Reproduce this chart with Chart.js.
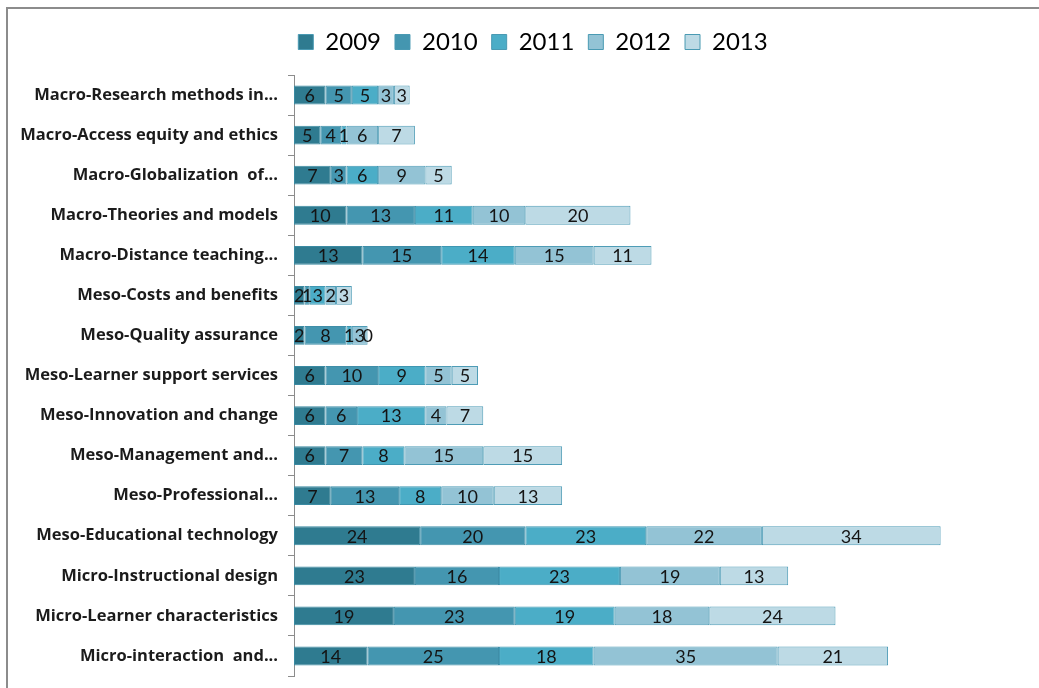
<!DOCTYPE html>
<html>
<head>
<meta charset="utf-8">
<script src="https://cdn.jsdelivr.net/npm/chart.js"></script>
<style>
  html, body { margin: 0; padding: 0; background: #fff; overflow: hidden; }
  #wrap { position: relative; width: 1039px; height: 688px; }
  #frame { position: absolute; left: 6px; top: 7px; width: 1100px; height: 700px;
           border-top: 2px solid #8c8c8c; border-left: 2px solid #8c8c8c; }
  canvas { position: absolute; left: 0; top: 0; }
</style>
</head>
<body>
<div id="wrap">
  <div id="frame"></div>
  <canvas id="myChart" width="1039" height="688"></canvas>
</div>
<script>
// categories, top to bottom
const topics = [
  'Macro-Research methods in...',
  'Macro-Access equity and ethics',
  'Macro-Globalization  of...',
  'Macro-Theories and models',
  'Macro-Distance teaching...',
  'Meso-Costs and benefits',
  'Meso-Quality assurance',
  'Meso-Learner support services',
  'Meso-Innovation and change',
  'Meso-Management and...',
  'Meso-Professional...',
  'Meso-Educational technology',
  'Micro-Instructional design',
  'Micro-Learner characteristics',
  'Micro-interaction  and...'
];

const years = ['2009', '2010', '2011', '2012', '2013'];

const v2009 = [6, 5, 7, 10, 13, 2, 2, 6, 6, 6, 7, 24, 23, 19, 14];
const v2010 = [5, 4, 3, 13, 15, 1, 8, 10, 6, 7, 13, 20, 16, 23, 25];
const v2011 = [5, 1, 6, 11, 14, 3, 1, 9, 13, 8, 8, 23, 23, 19, 18];
const v2012 = [3, 6, 9, 10, 15, 2, 3, 5, 4, 15, 10, 22, 19, 18, 35];
const v2013 = [3, 7, 5, 20, 11, 3, 0, 5, 7, 15, 13, 34, 13, 24, 21];

const fills = ['#2f7b90', '#4496b0', '#4badc7', '#93c3d5', '#bddae5'];
const edges = ['#3a8aa2', '#3f8ea8', '#3f97b2', '#4e9cb6', '#4e9cb6'];

const FONT = 'Lato, "DejaVu Sans", sans-serif';

// value labels in the middle of each segment
const segLabels = {
  id: 'segLabels',
  afterDatasetsDraw(chart) {
    const ctx = chart.ctx;
    ctx.save();
    ctx.font = '18px ' + FONT;
    ctx.fillStyle = '#141414';
    ctx.textAlign = 'center';
    ctx.textBaseline = 'middle';
    chart.data.datasets.forEach((ds, i) => {
      chart.getDatasetMeta(i).data.forEach((bar, j) => {
        const x = (bar.x + bar.base) / 2;
        ctx.fillText(String(ds.data[j]), x, bar.y + 1);
      });
    });
    ctx.restore();
  }
};

// a bit more room under the legend, and nudge it right
const legendGap = {
  id: 'legendGap',
  beforeInit(chart) {
    const fit = chart.legend.fit;
    chart.legend.fit = function () {
      fit.bind(chart.legend)();
      this.height += 11;
    };
  },
  afterLayout(chart) {
    chart.legend.left += 18;
    chart.legend.right += 18;
  }
};

const ctx = document.getElementById('myChart');

new Chart(ctx, {
  type: 'bar',
  data: {
    labels: topics,
    datasets: years.map((y, i) => ({
      label: y,
      data: [v2009, v2010, v2011, v2012, v2013][i],
      backgroundColor: fills[i],
      borderColor: edges[i],
      borderWidth: 1,
      borderSkipped: false,
      categoryPercentage: 0.47,
      barPercentage: 1
    }))
  },
  plugins: [segLabels, legendGap],
  options: {
    indexAxis: 'y',
    responsive: false,
    animation: false,
    layout: { padding: { top: 16, left: 0, right: 9, bottom: 12 } },
    plugins: {
      tooltip: { enabled: false },
      legend: {
        position: 'top',
        labels: {
          boxWidth: 15,
          boxHeight: 15,
          padding: 14,
          color: '#1b1b1b',
          font: { family: FONT, size: 24 },
          generateLabels(chart) {
            return chart.data.datasets.map((ds, i) => ({
              text: ds.label,
              fillStyle: ds.backgroundColor,
              strokeStyle: '#4a9ab3',
              lineWidth: 1,
              datasetIndex: i
            }));
          }
        }
      }
    },
    scales: {
      x: {
        display: false,
        stacked: true,
        min: 0,
        max: 140
      },
      y: {
        stacked: true,
        afterFit(scale) {
          scale.width = 294;
          scale.paddingTop = 0;
          scale.paddingBottom = 0;
        },
        grid: {
          drawOnChartArea: false,
          drawTicks: true,
          tickLength: 6,
          color: '#8c8c8c',
          offset: true
        },
        border: { color: '#8c8c8c', width: 1 },
        ticks: {
          color: '#1b1b1b',
          padding: 10,
          font: { family: '"Open Sans", sans-serif', size: 16.5, weight: 'bold' }
        }
      }
    }
  }
});
</script>
</body>
</html>
